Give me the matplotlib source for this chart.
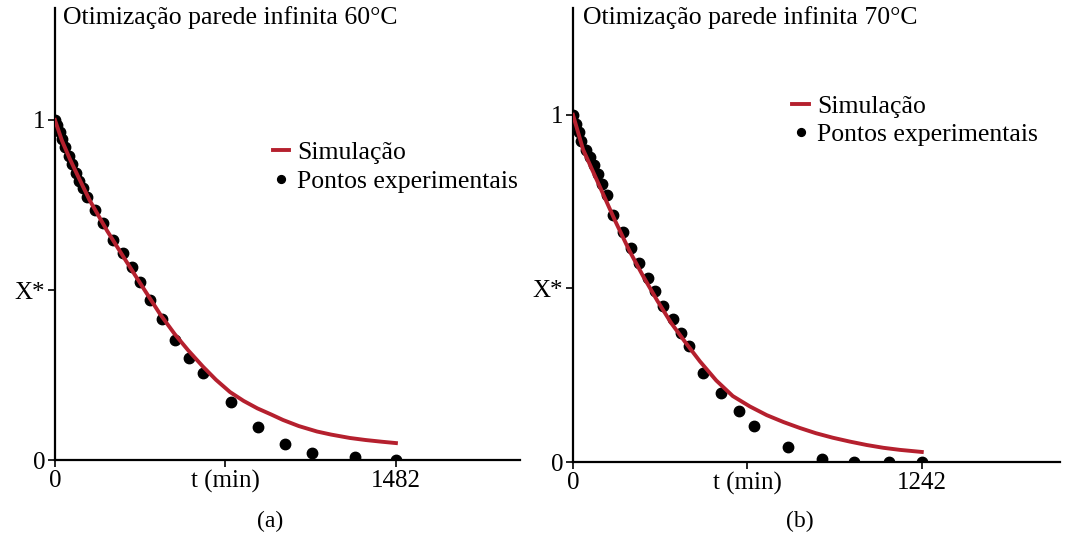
import numpy as np
import matplotlib.pyplot as plt

plt.rcParams['font.family'] = ['Liberation Serif', 'DejaVu Serif']

# =========================================
# DATA
# =========================================

# (a) 60 C
t_exp_60 = [0, 10, 20, 30, 45, 60, 75, 90, 105, 120, 139, 174, 209, 252, 296,
            335, 369, 413, 465, 521, 582, 643, 765, 882, 1000, 1117, 1304,
            1482]
x_exp_60 = [1.0, 0.985, 0.965, 0.945, 0.92, 0.895, 0.87, 0.845, 0.82, 0.8,
            0.774, 0.735, 0.697, 0.647, 0.609, 0.568, 0.524, 0.47, 0.415,
            0.353, 0.30, 0.256, 0.17, 0.097, 0.047, 0.021, 0.009, 0.0]
t_sim_60 = [0, 30, 65, 100, 150, 226, 300, 380, 456, 521, 580, 643, 700, 761,
            820, 880, 940, 991, 1060, 1139, 1200, 1282, 1350, 1420, 1482]
x_sim_60 = [1.0, 0.94, 0.885, 0.835, 0.765, 0.675, 0.595, 0.51, 0.43, 0.37,
            0.322, 0.275, 0.236, 0.2, 0.174, 0.152, 0.134, 0.118, 0.1, 0.084,
            0.075, 0.065, 0.059, 0.054, 0.05]

# (b) 70 C
t_exp_70 = [0, 10, 20, 30, 45, 60, 75, 90, 105, 121, 142, 178, 206, 235, 267,
            292, 320, 356, 384, 413, 463, 527, 591, 644, 765, 886, 1000, 1125,
            1242]
x_exp_70 = [1.0, 0.975, 0.95, 0.925, 0.9, 0.878, 0.855, 0.83, 0.8, 0.769,
            0.712, 0.663, 0.617, 0.573, 0.53, 0.493, 0.45, 0.412, 0.372, 0.334,
            0.256, 0.199, 0.147, 0.104, 0.043, 0.009, 0.0, 0.0, 0.0]
t_sim_70 = [0, 36, 100, 150, 200, 250, 300, 350, 400, 452, 510, 569, 630, 690,
            750, 808, 865, 925, 985, 1046, 1105, 1164, 1242]
x_sim_70 = [1.0, 0.9, 0.785, 0.695, 0.61, 0.535, 0.465, 0.4, 0.345, 0.29,
            0.235, 0.19, 0.16, 0.135, 0.115, 0.098, 0.083, 0.07, 0.059, 0.049,
            0.041, 0.035, 0.029]

titles = ["Otimização parede infinita 60°C", "Otimização parede infinita 70°C"]
t_end = [1482, 1242]
captions = ["(a)", "(b)"]

# =========================================
# FIGURE
# =========================================

fig = plt.figure(figsize=(10.65, 5.4), dpi=100)

panels = [
    dict(rect=[0.0516, 0.148, 0.4366, 0.837], xmax=2021, ymax=1.329,
         t_exp=t_exp_60, x_exp=x_exp_60, t_sim=t_sim_60, x_sim=x_sim_60,
         title_xy=(0.059, 0.967), leg_xy=(0.256, 0.738), cap_xy=(0.254, 0.034)),
    dict(rect=[0.538, 0.1444, 0.457, 0.841], xmax=1733, ymax=1.308,
         t_exp=t_exp_70, x_exp=x_exp_70, t_sim=t_sim_70, x_sim=x_sim_70,
         title_xy=(0.547, 0.967), leg_xy=(0.744, 0.824), cap_xy=(0.751, 0.034)),
]

red = "#b5202e"

for i, p in enumerate(panels):
    ax = fig.add_axes(p["rect"])
    ax.plot(p["t_sim"], p["x_sim"], color=red, lw=2.8, label="Simulação",
            zorder=3)
    ax.plot(p["t_exp"], p["x_exp"], "o", color="black", ms=7.5, mec="black",
            label="Pontos experimentais", zorder=2)

    ax.set_xlim(0, p["xmax"])
    ax.set_ylim(0, p["ymax"])

    for s in ["top", "right"]:
        ax.spines[s].set_visible(False)
    for s in ["left", "bottom"]:
        ax.spines[s].set_linewidth(1.6)
        ax.spines[s].set_color("black")

    ax.set_yticks([0, 0.5, 1])
    ax.set_yticklabels(["0", "X*", "1"])
    ax.set_xticks([0, t_end[i] / 2, t_end[i]])
    ax.set_xticklabels(["0", "t (min)", str(t_end[i])])
    ax.tick_params(labelsize=18, length=5, width=1.2, pad=2)

    ax.legend(loc="upper left", bbox_to_anchor=p["leg_xy"],
              bbox_transform=fig.transFigure, frameon=False, fontsize=18.5,
              handlelength=0.65, handletextpad=0.3, labelspacing=0.2,
              borderpad=0, borderaxespad=0, markerscale=0.75)

    fig.text(p["title_xy"][0], p["title_xy"][1], titles[i], fontsize=18.5,
             ha="left", va="center")
    fig.text(p["cap_xy"][0], p["cap_xy"][1], captions[i], fontsize=17,
             ha="center", va="center")

fig.savefig("out.png", dpi=100, facecolor="white")
